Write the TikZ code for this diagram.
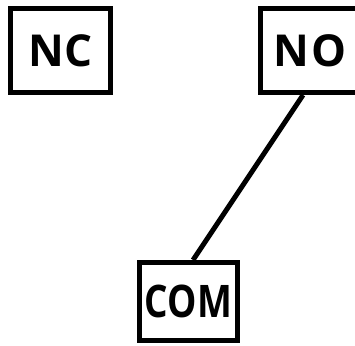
\documentclass[tikz,border=0pt]{standalone}
\usepackage{fontspec}
\setmainfont{Open Sans}
\usetikzlibrary{positioning}

\begin{document}
\begin{tikzpicture}[
    x=1pt, y=1pt,
    term/.style={draw, line width=5pt, minimum width=100pt, minimum height=84pt, inner sep=0pt, font=\fontsize{44}{48}\selectfont\bfseries},
    wire/.style={line width=5pt}
]
\clip (0,0) rectangle (355,345);
\node[term] (nc) at (60.5,294.5) {NC};
\node[term] (no) at (310,294.5) {N\kern1.5pt O};
\node[term, minimum width=98pt, minimum height=78pt] (com) at (188.5,43.5) {\raisebox{-2pt}{\scalebox{0.84}[1.02]{COM}}};

\draw[wire] ([xshift=-7pt]no.south) -- ([xshift=4.5pt]com.north);
\end{tikzpicture}
\end{document}
